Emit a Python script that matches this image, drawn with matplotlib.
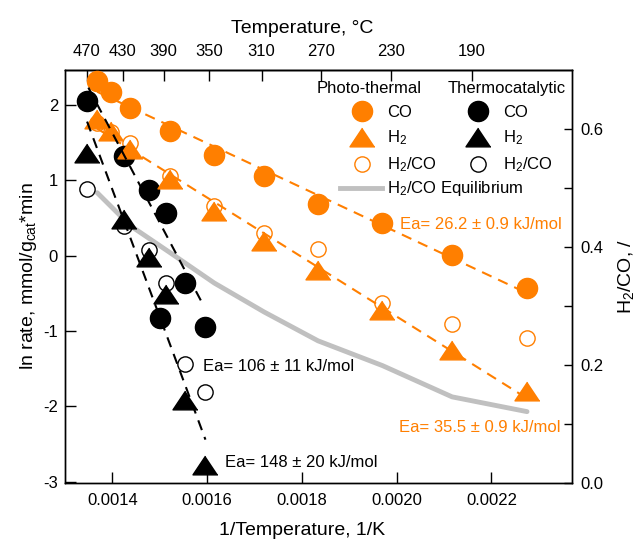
import numpy as np
import matplotlib
matplotlib.use("Agg")
import matplotlib.pyplot as plt
from matplotlib.lines import Line2D

plt.rcParams['font.family'] = ['Liberation Sans', 'DejaVu Sans']
plt.rcParams['mathtext.default'] = 'regular'
plt.rcParams['axes.unicode_minus'] = False

# ---------------- data ----------------
# photo-thermal (1/K)
pt_x = [0.001368, 0.001398, 0.001438, 0.0015225, 0.001615, 0.00172, 0.001834, 0.00197, 0.002117, 0.002275]
pt_co = [2.315, 2.178, 1.961, 1.655, 1.341, 1.053, 0.69, 0.434, 0.013, -0.429]
pt_h2 = [1.82, 1.66, 1.41, 1.02, 0.59, 0.19, -0.186, -0.717, -1.248, -1.80]
pt_ratio = [0.610, 0.595, 0.576, 0.520, 0.469, 0.424, 0.396, 0.305, 0.270, 0.246]
eq_ratio = [0.492, 0.468, 0.436, 0.390, 0.339, 0.290, 0.241, 0.199, 0.146, 0.121]

# thermocatalytic
tc_co_x = [0.0013466, 0.0014239, 0.0014767, 0.0015014, 0.001514, 0.0015542, 0.0015964]
tc_co = [2.049, 1.319, 0.876, -0.827, 0.562, -0.36, -0.95]
tc_x = [0.0013466, 0.0014239, 0.0014767, 0.001514, 0.0015542, 0.0015964]
tc_h2 = [1.364, 0.49, -0.02, -0.505, -1.92, -2.776]
tc_ratio = [0.499, 0.435, 0.395, 0.339, 0.201, 0.154]

# thermocatalytic Arrhenius fit lines
tc_co_fit_x = [0.0013493, 0.0015894]
tc_co_fit_y = [2.231, -0.628]
tc_h2_fit_x = [0.0013466, 0.0015964]
tc_h2_fit_y = [1.780, -2.444]

top_ticks_c = [470, 430, 390, 350, 310, 270, 230, 190]
bottom_ticks = [0.0014, 0.0016, 0.0018, 0.0020, 0.0022]

ORANGE = '#FF7F00'
GRAY = '#C0C0C0'

fig = plt.figure(figsize=(6.36, 5.44), dpi=100)
ax = fig.add_axes([0.1022, 0.1121, 0.7972, 0.7592])
ax2 = ax.twinx()
ax.set_zorder(ax2.get_zorder() + 1)
ax.patch.set_visible(False)

ms_c = 14.5
ms_o = 11
tri = [(0, 0.75), (-1, -0.75), (1, -0.75)]
ms_t = 18

# right axis: ratios & equilibrium
ax2.plot(pt_x, eq_ratio, color=GRAY, lw=3.5, solid_capstyle='round', zorder=1)
ax2.plot(pt_x, pt_ratio, ls='none', marker='o', ms=ms_o, mfc='none', mec=ORANGE, mew=1.0, zorder=2)
ax2.plot(tc_x, tc_ratio, ls='none', marker='o', ms=ms_o, mfc='none', mec='black', mew=1.0, zorder=2)

# left axis
ax.plot(tc_co_x, tc_co, ls='none', marker='o', ms=ms_c, color='black', zorder=2)
ax.plot(tc_x, tc_h2, ls='none', marker=tri, ms=ms_t, color='black', zorder=2)
ax.plot(pt_x, pt_co, ls='none', marker='o', ms=ms_c, color=ORANGE, zorder=3)
ax.plot(pt_x, pt_h2, ls='none', marker=tri, ms=ms_t, color=ORANGE, zorder=3)

# fit lines
xa = np.array(pt_x)
for yv in (pt_co, pt_h2):
    p = np.polyfit(xa, np.array(yv), 1)
    xx = np.array([xa.min(), xa.max()])
    ax.plot(xx, np.polyval(p, xx), color=ORANGE, lw=1.5, dashes=(5, 3.5), zorder=4)
ax.plot(tc_co_fit_x, tc_co_fit_y, color='black', lw=1.5, dashes=(5, 3.5), zorder=4)
ax.plot(tc_h2_fit_x, tc_h2_fit_y, color='black', lw=1.5, dashes=(5, 3.5), zorder=4)

# annotations
ax.text(0.002008, 0.412, 'Ea= 26.2 \u00b1 0.9 kJ/mol', color=ORANGE, fontsize=12, ha='left', va='center')
ax.text(0.002004, -2.284, 'Ea= 35.5 \u00b1 0.9 kJ/mol', color=ORANGE, fontsize=12, ha='left', va='center')
ax.text(0.0015922, -1.470, 'Ea= 106 \u00b1 11 kJ/mol', color='black', fontsize=12, ha='left', va='center')
ax.text(0.0016386, -2.749, 'Ea= 148 \u00b1 20 kJ/mol', color='black', fontsize=12, ha='left', va='center')

# limits & ticks
ax.set_xlim(0.0013, 0.00237)
ax.set_ylim(-3.02, 2.465)
ax2.set_ylim(0, 0.70)
ax.set_xticks(bottom_ticks)
ax.set_xticklabels(['%.4f' % v for v in bottom_ticks])
ax.set_yticks([-3, -2, -1, 0, 1, 2])
ax2.set_yticks([0.0, 0.2, 0.4, 0.6])
ax2.set_yticklabels(['0.0', '0.2', '0.4', '0.6'])
ax2.set_yticks([0.1, 0.3, 0.5], minor=True)

ax.tick_params(axis='x', direction='in', length=8, width=1, labelsize=12, pad=7, top=False)
ax.tick_params(axis='y', direction='in', length=8, width=1, labelsize=12, pad=5)
ax2.tick_params(axis='y', which='both', direction='in', length=6, width=1, labelsize=12, pad=6)
ax2.tick_params(axis='x', top=False, bottom=False)

for a in (ax, ax2):
    for s in a.spines.values():
        s.set_linewidth(1.0)

secx = ax.secondary_xaxis('top', functions=(lambda x: 1.0 / np.maximum(x, 1e-9) - 273.15,
                                            lambda t: 1.0 / (np.asarray(t) + 273.15)))
secx.set_xticks(top_ticks_c)
secx.set_xticklabels([str(t) for t in top_ticks_c])
secx.tick_params(direction='in', length=8, width=1, labelsize=12, pad=8)
secx.spines['top'].set_linewidth(1.0)
secx.set_xlabel('Temperature, \u00b0C', fontsize=14, labelpad=8)
secx.xaxis.label.set_x(0.468)

ax.set_xlabel('1/Temperature, 1/K', fontsize=14, labelpad=10)
ax.xaxis.label.set_x(0.468)
ax.set_ylabel('ln rate, mmol/g$_{cat}$*min', fontsize=14, labelpad=3)
ax2.set_ylabel('H$_2$/CO, /', fontsize=14, labelpad=9)

# legends
h_or = [Line2D([], [], ls='none', marker='o', ms=ms_c, color=ORANGE),
        Line2D([], [], ls='none', marker=tri, ms=ms_t, color=ORANGE),
        Line2D([], [], ls='none', marker='o', ms=ms_o, mfc='none', mec=ORANGE, mew=1.0)]
h_bk = [Line2D([], [], ls='none', marker='o', ms=ms_c, color='black'),
        Line2D([], [], ls='none', marker=tri, ms=ms_t, color='black'),
        Line2D([], [], ls='none', marker='o', ms=ms_o, mfc='none', mec='black', mew=1.0)]
labels = ['CO', 'H$_2$', 'H$_2$/CO']
common = dict(loc='upper left', frameon=False, fontsize=12, borderaxespad=0, borderpad=0,
              handlelength=2, handletextpad=0.5, labelspacing=0.52, bbox_transform=ax.transAxes)
leg1 = ax.legend(h_or, labels, bbox_to_anchor=(0.5529, 0.916), **common)
ax.add_artist(leg1)
leg2 = ax.legend(h_bk, labels, bbox_to_anchor=(0.7817, 0.916), **common)
ax.add_artist(leg2)
h_eq = [Line2D([], [], color=GRAY, lw=3.5)]
ax.legend(h_eq, ['H$_2$/CO Equilibrium'], loc='upper left', frameon=False, fontsize=12,
          borderaxespad=0, borderpad=0, handlelength=2.5, handletextpad=0.3,
          bbox_to_anchor=(0.5424, 0.735), bbox_transform=ax.transAxes)

ax.text(0.5996, 0.956, 'Photo-thermal', transform=ax.transAxes, fontsize=12, ha='center', va='center')
ax.text(0.8708, 0.956, 'Thermocatalytic', transform=ax.transAxes, fontsize=12, ha='center', va='center')

fig.savefig('out.png', dpi=100)
